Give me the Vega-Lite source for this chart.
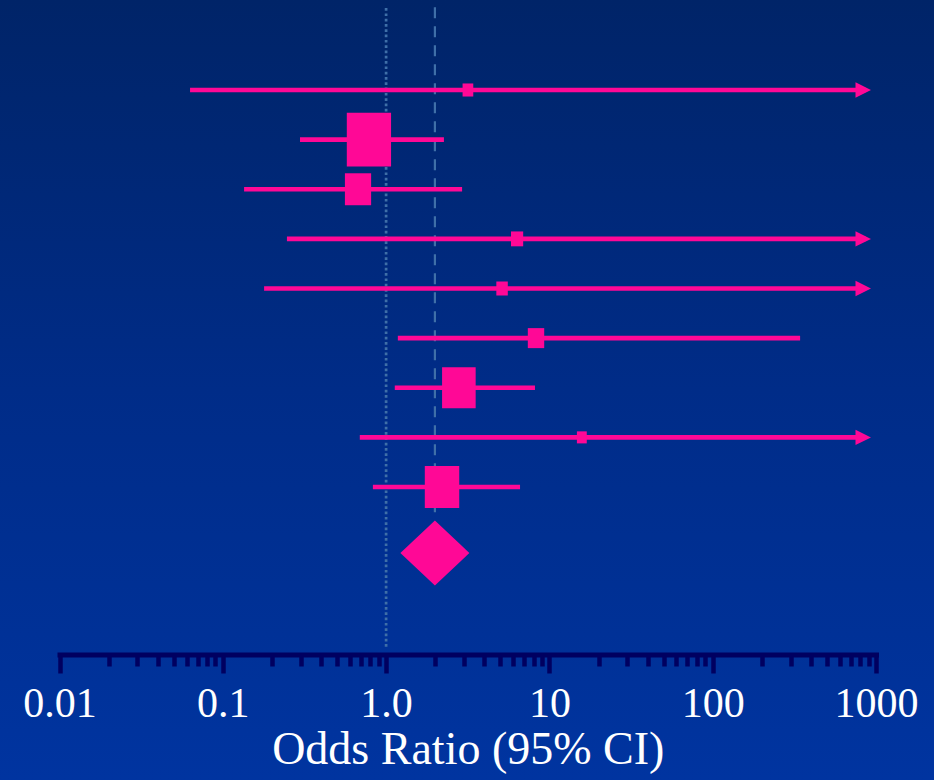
{
  "$schema": "https://vega.github.io/schema/vega-lite/v6.json",
  "width": 934,
  "height": 780,
  "autosize": {"type": "none"},
  "padding": 0,
  "background": "#002c84",
  "config": {
    "view": {"stroke": null},
    "font": "Liberation Serif",
    "axisX": {
      "grid": false,
      "zindex": 2,
      "offset": -125.5,
      "domainColor": "#000060",
      "domainWidth": 5,
      "domainCap": "square",
      "tickColor": "#000060",
      "tickWidth": 4.5,
      "labelFont": "Liberation Serif",
      "labelFontSize": 42,
      "labelColor": "#ffffff",
      "labelPadding": 10,
      "labelOverlap": false,
      "labelFlush": false,
      "titleFont": "Liberation Serif",
      "titleFontSize": 46,
      "titleFontWeight": "normal",
      "titleColor": "#ffffff",
      "titlePadding": 3
    }
  },
  "datasets": {
    "backdrop": [{"panel": "slide"}],
    "refs": [
      {"kind": "null", "or": 1, "top": -0.65, "bottom": 12.25},
      {"kind": "pooled", "or": 1.99, "top": -0.67, "bottom": 9.67}
    ],
    "studies": [
      {"row": 1, "or": 3.17, "lo": 0.063, "hi": 863, "arrow": true, "weight": 2.0},
      {"row": 2, "or": 0.785, "lo": 0.297, "hi": 2.26, "arrow": false, "weight": 34.2},
      {"row": 3, "or": 0.673, "lo": 0.135, "hi": 2.92, "arrow": false, "weight": 12.0},
      {"row": 4, "or": 6.34, "lo": 0.247, "hi": 863, "arrow": true, "weight": 2.6},
      {"row": 5, "or": 5.13, "lo": 0.179, "hi": 863, "arrow": true, "weight": 2.3},
      {"row": 6, "or": 8.28, "lo": 1.18, "hi": 343, "arrow": false, "weight": 4.7},
      {"row": 7, "or": 2.79, "lo": 1.13, "hi": 8.16, "arrow": false, "weight": 19.7},
      {"row": 8, "or": 15.8, "lo": 0.69, "hi": 863, "arrow": true, "weight": 1.7},
      {"row": 9, "or": 2.2, "lo": 0.83, "hi": 6.61, "arrow": false, "weight": 20.7}
    ],
    "pooled": [{"row": 10.33, "or": 1.99, "lo": 1.23, "hi": 3.27}]
  },
  "layer": [
    {
      "data": {"name": "backdrop"},
      "mark": {
        "type": "rect",
        "color": {
          "gradient": "linear",
          "x1": 0, "y1": 0, "x2": 0, "y2": 1,
          "stops": [
            {"offset": 0, "color": "#002468"},
            {"offset": 0.5, "color": "#002c88"},
            {"offset": 1, "color": "#0034a0"}
          ]
        }
      },
      "encoding": {}
    },
    {
      "data": {"name": "refs"},
      "transform": [{"filter": "datum.kind == 'null'"}],
      "mark": {"type": "rule", "color": "#3f6fa8", "strokeWidth": 2.7, "strokeDash": [2.7, 2.6]},
      "encoding": {
        "x": {
          "field": "or", "type": "quantitative", "title": "Odds Ratio (95% CI)",
          "scale": {"type": "log", "domain": [0.01, 1000], "range": [59.5, 876], "nice": false},
          "axis": {
            "zindex": 2,
            "values": [0.01,0.02,0.03,0.04,0.05,0.06,0.07,0.08,0.09,0.1,0.2,0.3,0.4,0.5,0.6,0.7,0.8,0.9,1,2,3,4,5,6,7,8,9,10,20,30,40,50,60,70,80,90,100,200,300,400,500,600,700,800,900,1000],
            "labelExpr": "datum.value == 0.01 ? '0.01' : datum.value == 0.1 ? '0.1' : datum.value == 1 ? '1.0' : datum.value == 10 ? '10' : datum.value == 100 ? '100' : datum.value == 1000 ? '1000' : ''",
            "tickSize": {"condition": {"test": "indexof([0.01,0.1,1,10,100,1000], datum.value) >= 0", "value": 18.5}, "value": 11.5}
          }
        },
        "y": {"field": "top", "type": "quantitative", "scale": {"domain": [1, 9], "range": [90, 487], "nice": false, "zero": false}, "axis": null},
        "y2": {"field": "bottom"}
      }
    },
    {
      "data": {"name": "refs"},
      "transform": [{"filter": "datum.kind == 'pooled'"}],
      "mark": {"type": "rule", "color": "#3f6fa8", "strokeWidth": 2.2, "strokeDash": [11, 8]},
      "encoding": {
        "x": {"field": "or", "type": "quantitative", "title": "Odds Ratio (95% CI)", "scale": {"type": "log", "domain": [0.01, 1000], "range": [59.5, 876], "nice": false}},
        "y": {"field": "top", "type": "quantitative", "scale": {"domain": [1, 9], "range": [90, 487], "nice": false, "zero": false}, "axis": null},
        "y2": {"field": "bottom"}
      }
    },
    {
      "data": {"name": "studies"},
      "mark": {"type": "rule", "color": "#ff0896", "strokeWidth": 4.7, "strokeCap": "butt"},
      "encoding": {
        "x": {"field": "lo", "type": "quantitative", "title": "Odds Ratio (95% CI)", "scale": {"type": "log", "domain": [0.01, 1000], "range": [59.5, 876], "nice": false}},
        "x2": {"field": "hi"},
        "y": {"field": "row", "type": "quantitative", "scale": {"domain": [1, 9], "range": [90, 487], "nice": false, "zero": false}, "axis": null}
      }
    },
    {
      "data": {"name": "studies"},
      "transform": [{"filter": "datum.arrow"}],
      "mark": {"type": "point", "shape": "M-1.3,-1L0.7,0L-1.3,1Z", "filled": true, "opacity": 1, "color": "#ff0896", "size": 240, "strokeWidth": 0},
      "encoding": {
        "x": {"field": "hi", "type": "quantitative", "title": "Odds Ratio (95% CI)", "scale": {"type": "log", "domain": [0.01, 1000], "range": [59.5, 876], "nice": false}},
        "y": {"field": "row", "type": "quantitative", "scale": {"domain": [1, 9], "range": [90, 487], "nice": false, "zero": false}, "axis": null}
      }
    },
    {
      "data": {"name": "studies"},
      "mark": {"type": "point", "shape": "M-0.82,-1L0.82,-1L0.82,1L-0.82,1Z", "filled": true, "opacity": 1, "color": "#ff0896", "strokeWidth": 0},
      "encoding": {
        "x": {"field": "or", "type": "quantitative", "title": "Odds Ratio (95% CI)", "scale": {"type": "log", "domain": [0.01, 1000], "range": [59.5, 876], "nice": false}},
        "y": {"field": "row", "type": "quantitative", "scale": {"domain": [1, 9], "range": [90, 487], "nice": false, "zero": false}, "axis": null},
        "size": {"field": "weight", "type": "quantitative", "scale": {"domain": [0, 100], "range": [0, 8519], "zero": true}, "legend": null}
      }
    },
    {
      "data": {"name": "pooled"},
      "mark": {"type": "point", "shape": "M-1,0L0,-0.94L1,0L0,0.94Z", "filled": true, "opacity": 1, "color": "#ff0896", "size": 4761, "strokeWidth": 0},
      "encoding": {
        "x": {"field": "or", "type": "quantitative", "title": "Odds Ratio (95% CI)", "scale": {"type": "log", "domain": [0.01, 1000], "range": [59.5, 876], "nice": false}},
        "y": {"field": "row", "type": "quantitative", "scale": {"domain": [1, 9], "range": [90, 487], "nice": false, "zero": false}, "axis": null}
      }
    }
  ]
}
